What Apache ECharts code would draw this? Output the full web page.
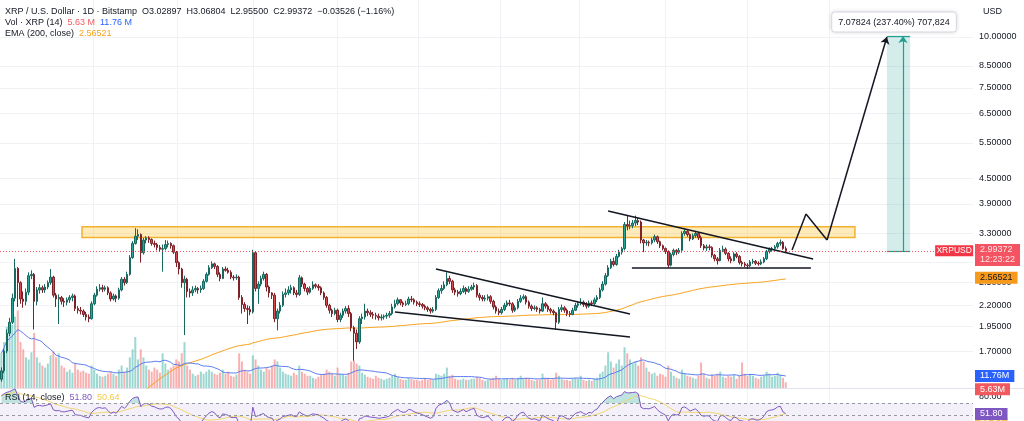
<!DOCTYPE html>
<html>
<head>
<meta charset="utf-8">
<title>XRPUSD 1D</title>
<script src="https://cdn.jsdelivr.net/npm/echarts@6/dist/echarts.min.js"></script>
<style>
  html, body { margin: 0; padding: 0; background: #fff; }
  #chart { width: 1024px; height: 421px; }
</style>
</head>
<body>
<div id="chart"></div>
<script>
// XRP / U.S. Dollar, 1D, Bitstamp
const firstOpen = 1.45;
const closes = [
  1.52,1.70,1.88,2.00,2.29,2.71,2.50,2.28,2.25,2.37,
  2.60,2.62,2.25,2.40,2.43,2.40,2.44,2.50,2.58,2.33,
  2.28,2.30,2.25,2.24,2.27,2.30,2.32,2.16,2.14,2.13,
  2.09,2.06,2.04,2.22,2.33,2.41,2.43,2.41,2.43,2.36,
  2.28,2.32,2.29,2.40,2.55,2.50,2.62,2.88,3.12,3.25,
  3.28,2.96,3.18,3.22,3.19,3.12,3.10,3.05,3.02,3.03,
  3.10,3.12,3.08,2.97,2.80,2.70,2.50,2.55,2.38,2.36,
  2.40,2.42,2.40,2.42,2.52,2.62,2.72,2.78,2.74,2.62,
  2.56,2.70,2.68,2.65,2.58,2.57,2.58,2.30,2.21,2.16,
  2.15,2.12,2.96,2.42,2.48,2.56,2.62,2.44,2.36,2.33,
  2.04,2.13,2.20,2.34,2.36,2.40,2.43,2.36,2.34,2.57,
  2.48,2.42,2.37,2.42,2.47,2.45,2.43,2.36,2.30,2.20,
  2.14,2.10,2.14,2.03,2.08,2.13,2.16,2.10,1.94,1.88,
  1.79,2.04,2.06,2.13,2.11,2.09,2.08,2.07,2.05,2.06,
  2.07,2.08,2.10,2.18,2.22,2.27,2.23,2.21,2.22,2.28,
  2.27,2.24,2.22,2.21,2.19,2.17,2.15,2.13,2.15,2.30,
  2.39,2.42,2.47,2.56,2.52,2.40,2.37,2.35,2.38,2.42,
  2.38,2.41,2.44,2.46,2.33,2.30,2.28,2.29,2.31,2.25,
  2.18,2.13,2.11,2.15,2.20,2.23,2.22,2.14,2.17,2.25,
  2.29,2.31,2.24,2.19,2.16,2.17,2.15,2.13,2.22,2.19,
  2.15,2.13,2.11,2.00,2.15,2.17,2.14,2.10,2.09,2.14,
  2.20,2.22,2.24,2.21,2.19,2.23,2.22,2.27,2.30,2.40,
  2.48,2.60,2.72,2.82,2.77,2.90,2.97,3.03,3.47,3.44,
  3.45,3.50,3.55,3.52,3.18,3.13,3.14,3.13,3.18,3.24,
  3.15,3.08,3.03,2.98,2.76,2.93,3.00,2.97,3.00,3.30,
  3.34,3.28,3.20,3.26,3.30,3.22,3.08,3.04,3.06,3.05,
  2.92,2.86,2.83,3.00,3.02,2.95,2.86,2.83,2.94,2.90,
  2.80,2.78,2.76,2.75,2.81,2.82,2.79,2.78,2.81,2.86,
  2.98,3.02,3.03,3.06,3.12,3.14,3.03,2.99372
];
const highs = [
  1.55,1.72,1.92,2.05,2.35,2.86,2.73,2.52,2.38,2.42,
  2.65,2.68,2.64,2.44,2.48,2.46,2.48,2.53,2.70,2.60,
  2.36,2.34,2.32,2.29,2.30,2.33,2.35,2.34,2.19,2.18,
  2.15,2.12,2.09,2.25,2.36,2.45,2.48,2.47,2.46,2.45,
  2.38,2.35,2.34,2.43,2.58,2.58,2.66,2.92,3.16,3.40,
  3.38,3.30,3.22,3.25,3.25,3.21,3.17,3.13,3.09,3.10,
  3.18,3.17,3.14,3.10,2.99,2.82,2.72,2.60,2.57,2.42,
  2.45,2.46,2.44,2.46,2.55,2.65,2.76,2.82,2.80,2.76,
  2.65,2.73,2.74,2.72,2.68,2.61,2.62,2.60,2.33,2.24,
  2.20,2.19,3.01,2.99,2.52,2.60,2.66,2.64,2.46,2.37,
  2.36,2.16,2.24,2.38,2.42,2.45,2.47,2.45,2.40,2.61,
  2.59,2.50,2.44,2.45,2.52,2.49,2.48,2.45,2.38,2.32,
  2.22,2.16,2.17,2.16,2.11,2.16,2.19,2.20,2.12,1.96,
  1.92,2.07,2.10,2.22,2.16,2.14,2.12,2.11,2.10,2.09,
  2.09,2.11,2.13,2.22,2.27,2.30,2.28,2.25,2.26,2.31,
  2.32,2.29,2.26,2.25,2.23,2.21,2.19,2.17,2.18,2.33,
  2.42,2.47,2.52,2.65,2.60,2.54,2.43,2.40,2.42,2.46,
  2.44,2.45,2.47,2.50,2.48,2.36,2.33,2.33,2.34,2.33,
  2.27,2.20,2.16,2.18,2.23,2.26,2.27,2.24,2.20,2.28,
  2.33,2.34,2.33,2.26,2.21,2.20,2.19,2.17,2.30,2.24,
  2.21,2.17,2.15,2.12,2.18,2.21,2.19,2.16,2.13,2.17,
  2.23,2.25,2.29,2.26,2.24,2.26,2.26,2.30,2.33,2.43,
  2.52,2.64,2.76,2.86,2.88,2.94,3.01,3.06,3.52,3.64,
  3.55,3.56,3.65,3.60,3.55,3.20,3.18,3.17,3.22,3.28,
  3.26,3.17,3.10,3.05,3.00,2.96,3.03,3.02,3.04,3.34,
  3.38,3.36,3.30,3.30,3.35,3.33,3.26,3.11,3.10,3.10,
  3.07,2.94,2.89,3.04,3.08,3.05,2.97,2.90,2.97,2.97,
  2.92,2.83,2.81,2.79,2.84,2.86,2.84,2.82,2.85,2.89,
  3.01,3.05,3.06,3.09,3.15,3.19,3.16,3.06804
];
const lows = [
  1.43,1.50,1.68,1.85,1.98,2.25,2.18,2.22,2.17,2.20,
  2.33,2.55,1.92,2.20,2.35,2.36,2.36,2.41,2.47,2.30,
  2.18,1.98,2.21,2.18,2.20,2.23,2.25,2.13,2.10,2.09,
  2.06,2.02,2.00,2.03,2.20,2.31,2.38,2.37,2.38,2.33,
  2.25,2.26,2.24,2.27,2.38,2.46,2.48,2.60,2.86,3.10,
  3.18,2.80,2.93,3.12,3.13,3.08,3.05,3.00,2.98,2.66,
  3.00,3.05,3.03,2.94,2.73,2.62,2.43,1.86,2.30,2.30,
  2.32,2.37,2.35,2.36,2.40,2.50,2.60,2.70,2.70,2.58,
  2.52,2.55,2.66,2.63,2.55,2.53,2.54,2.27,2.10,2.12,
  1.98,2.08,2.10,2.38,2.22,2.45,2.53,2.38,2.30,2.28,
  2.00,1.91,2.10,2.18,2.30,2.33,2.35,2.33,2.30,2.32,
  2.44,2.38,2.33,2.35,2.40,2.42,2.39,2.33,2.27,2.17,
  2.10,2.06,2.08,2.00,2.00,2.05,2.10,2.06,1.90,1.61,
  1.72,1.77,1.98,2.03,2.07,2.06,2.04,2.03,2.02,2.02,
  2.03,2.04,2.05,2.08,2.16,2.20,2.20,2.18,2.19,2.20,
  2.24,2.21,2.19,2.18,2.16,2.14,2.12,2.10,2.11,2.13,
  2.28,2.35,2.40,2.45,2.48,2.36,2.33,2.31,2.33,2.36,
  2.34,2.36,2.39,2.40,2.30,2.26,2.25,2.25,2.26,2.22,
  2.15,2.10,2.08,2.09,2.13,2.18,2.19,2.11,2.12,2.15,
  2.23,2.27,2.21,2.16,2.13,2.14,2.12,2.10,2.12,2.16,
  2.12,2.10,2.08,1.92,1.98,2.12,2.11,2.07,2.06,2.08,
  2.13,2.17,2.20,2.18,2.16,2.17,2.19,2.20,2.24,2.28,
  2.38,2.46,2.58,2.70,2.74,2.75,2.88,2.93,3.00,3.36,
  3.38,3.40,3.44,3.46,3.12,2.97,3.08,3.07,3.10,3.14,
  3.11,3.04,3.00,2.94,2.72,2.74,2.90,2.92,2.94,2.96,
  3.26,3.24,3.16,3.18,3.22,3.18,3.04,3.00,2.99,3.00,
  2.88,2.82,2.77,2.82,2.97,2.92,2.82,2.79,2.82,2.87,
  2.77,2.74,2.73,2.70,2.73,2.78,2.76,2.75,2.76,2.79,
  2.84,2.95,2.98,3.00,3.03,3.08,3.01,2.955
];
// volume, millions of XRP
const volumes = [
  34,45,60,54,62,70,76,45,38,30,
  28,35,54,30,25,22,20,24,32,36,
  30,34,22,20,16,18,15,24,18,16,
  17,15,14,22,18,14,12,11,12,14,
  16,14,12,18,22,16,20,30,38,50,
  28,38,30,22,18,16,20,18,15,34,
  24,18,20,22,28,26,34,45,22,18,
  14,12,13,16,14,16,18,16,14,13,
  15,18,14,16,12,11,13,34,26,18,
  16,14,32,28,22,18,16,20,18,22,
  28,26,20,16,14,13,12,15,13,22,
  16,14,12,12,10,9,11,13,14,18,
  16,14,12,20,14,13,12,15,26,27,
  24,22,15,13,11,10,9,12,10,9,
  8,9,10,12,14,11,9,8,8,10,
  9,8,8,7,8,9,8,9,8,14,
  13,12,14,20,12,13,9,8,8,9,
  8,8,9,9,11,10,8,7,8,9,
  10,12,9,8,9,9,8,10,8,10,
  12,9,10,9,8,7,8,8,14,10,
  9,8,9,15,12,9,8,8,7,9,
  10,9,12,8,7,8,7,9,10,14,
  16,22,35,26,20,24,28,22,40,34,
  28,24,26,22,30,26,20,16,14,15,
  12,14,13,11,22,16,12,10,9,18,
  14,12,11,10,9,12,25,14,10,9,
  13,12,14,16,11,10,12,11,13,9,
  12,25,14,12,14,12,10,9,11,12,
  16,14,11,12,15,13,10,5.63
];

const priceTicks = [1.70, 1.95, 2.20, 2.50, 2.80, 3.30, 3.90, 4.50, 5.50, 6.50, 7.50, 8.50, 10.00];
const monthLines = [33.5, 64.5, 92, 123, 152.5, 182.5, 211.5, 243, 273, 303];
const slots = 356;             // bar slots, incl. the empty space right of the last bar
const emaSeed = 0.6;           // EMA(200) level before the first visible bar
const rsiSeed = [0.05, 0.012]; // Wilder avg gain / avg loss before the first bar
const rsiBands = [70, 50];     // upper band, middle line

const lastClose = 2.99372, emaLast = 2.56521, volLast = 5.63, volMaLast = 11.76;
const rsiLast = 51.80, rsiMaLast = 50.64;

// drawings (bar index, price)
const zone = [[29.5, 3.428], [312.3, 3.228]];
const wedgeTop = [[159.0, 2.700], [230.0, 2.095]];
const wedgeBottom = [[144.0, 2.118], [230.0, 1.840]];
const triangleTop = [[222.0, 3.746], [297.0, 2.857]];
const triangleBase = [[230.7, 2.716], [296.2, 2.716]];
const projection = [[289.3, 3.006], [294.4, 3.683], [302.1, 3.180], [324.0, 10.0]];
const target = { from: 324.0, to: 332.5, arrow: 329.9, low: 2.98, high: 10.06 };

// ---- derived series ----
const opens = closes.map((c, i) => i ? closes[i - 1] : firstOpen); // 24h market: open = prior close
const candles = closes.map((c, i) => [opens[i], c,
  Math.min(lows[i], opens[i], c), Math.max(highs[i], opens[i], c)]);

const ema = [];
let e = emaSeed;
closes.forEach(c => { e += (c - e) * 2 / 201; ema.push(+e.toFixed(5)); });

function sma(arr, n) {
  return arr.map((v, i) => {
    const s = arr.slice(Math.max(0, i - n + 1), i + 1);
    return s.reduce((a, b) => a + b, 0) / s.length;
  });
}
const volMa = sma(volumes, 14);

const rsi = [];
let ag = rsiSeed[0], al = rsiSeed[1];
closes.forEach((c, i) => {
  const d = c - opens[i];
  ag = (ag * 13 + Math.max(d, 0)) / 14;
  al = (al * 13 + Math.max(-d, 0)) / 14;
  rsi.push(100 - 100 / (1 + ag / al));
});
const rsiMa = sma(rsi, 14);

const cats = Array.from({ length: slots }, (_, i) => String(i));
const font = '"Liberation Sans", Arial, sans-serif';
const fs = 9;
const ink = '#131722';
const gridColor = '#f0f2f6';
const clear = 'rgba(0,0,0,0)';
const upVol = 'rgba(38,166,154,0.45)', downVol = 'rgba(239,83,80,0.45)';

function seg(a, b, endSymbol) {
  return [{ coord: a, symbol: 'none' }, { coord: b, symbol: endSymbol || 'none' }];
}
function tag(bg, fg, text, extra) {
  return Object.assign({
    show: true, position: 'end', distance: 2, color: fg, backgroundColor: bg,
    fontSize: fs, fontFamily: font, padding: [1, 5], lineHeight: 10, formatter: text
  }, extra || {});
}
function hidden(value, label) {
  return { yAxis: value, symbol: 'none', lineStyle: { color: clear, width: 0 }, label: label };
}

const chart = echarts.init(document.getElementById('chart'));
chart.setOption({
  animation: false,
  backgroundColor: '#fff',
  textStyle: { fontFamily: font },
  title: [
    { left: 5, top: 7, padding: 0,
      text: 'XRP / U.S. Dollar · 1D · Bitstamp  O3.02897  H3.06804  L2.95500  C2.99372  −0.03526 (−1.16%)',
      textStyle: { fontSize: fs, fontWeight: 'normal', color: ink, fontFamily: font } },
    { left: 5, top: 18, padding: 0,
      text: 'Vol · XRP (14)  {r|5.63 M}  {b|11.76 M}',
      textStyle: { fontSize: fs, fontWeight: 'normal', color: ink, fontFamily: font,
        rich: { r: { color: '#f05a5f', fontSize: fs }, b: { color: '#2962ff', fontSize: fs } } } },
    { left: 5, top: 29, padding: 0,
      text: 'EMA (200, close)  {o|2.56521}',
      textStyle: { fontSize: fs, fontWeight: 'normal', color: ink, fontFamily: font,
        rich: { o: { color: '#f7a21b', fontSize: fs } } } },
    { left: 5, top: 393, padding: 0,
      text: 'RSI (14, close)  {p|51.80}  {y|50.64}',
      textStyle: { fontSize: fs, fontWeight: 'normal', color: ink, fontFamily: font,
        rich: { p: { color: '#7e57c2', fontSize: fs }, y: { color: '#f2c94c', fontSize: fs } } } },
    { left: 983, top: 7, padding: 0, text: 'USD',
      textStyle: { fontSize: fs, fontWeight: 'normal', color: ink, fontFamily: font } }
  ],
  graphic: [
    { type: 'line', silent: true, z: 1, shape: { x1: 0, y1: 388.5, x2: 1024, y2: 388.5 },
      style: { stroke: '#e0e3eb', lineWidth: 1 } }
  ],
  grid: [
    { left: 0, right: 51, top: 0, height: 388 },
    { left: 0, right: 51, top: 288, height: 100 },
    { left: 0, right: 51, top: 388, height: 33 }
  ],
  xAxis: [
    { type: 'category', gridIndex: 0, data: cats, show: false },
    { type: 'category', gridIndex: 1, data: cats, show: false },
    { type: 'value', gridIndex: 0, min: -0.5, max: slots - 0.5,
      axisLine: { show: false }, axisTick: { show: false, customValues: monthLines },
      axisLabel: { show: false, customValues: monthLines },
      splitLine: { show: true, lineStyle: { color: gridColor, width: 1 } } },
    { type: 'value', gridIndex: 2, min: -0.5, max: slots - 0.5,
      axisLine: { show: false }, axisTick: { show: false, customValues: monthLines },
      axisLabel: { show: false, customValues: monthLines },
      splitLine: { show: true, lineStyle: { color: gridColor, width: 1 } } }
  ],
  yAxis: [
    { type: 'log', gridIndex: 0, position: 'right', min: 1.38, max: 12.32,
      axisLine: { show: false },
      axisTick: { show: false, customValues: priceTicks },
      axisLabel: { customValues: priceTicks, align: 'left', margin: 6, color: ink,
        fontSize: fs, fontFamily: font,
        formatter: v => (Math.abs(v - 2.8) < 1e-6 ? '' : v.toFixed(5)) },
      splitLine: { show: true, lineStyle: { color: gridColor, width: 1 } } },
    { type: 'value', gridIndex: 1, min: 0, max: 98, show: false },
    { type: 'value', gridIndex: 2, position: 'right', min: 40, max: 95,
      axisLine: { show: false }, splitLine: { show: false },
      axisTick: { show: false, customValues: [80] },
      axisLabel: { customValues: [80], align: 'left', margin: 6, color: ink,
        fontSize: fs, fontFamily: font, formatter: v => v.toFixed(2) } }
  ],
  series: [
    {
      name: 'XRPUSD', type: 'candlestick', xAxisIndex: 0, yAxisIndex: 0,
      data: candles, barWidth: 2, z: 3,
      itemStyle: { color: '#26a69a', color0: '#d9474f', borderColor: '#17695f', borderColor0: '#7d2228', borderWidth: 1 }
    },
    {
      name: 'EMA 200', type: 'line', xAxisIndex: 0, yAxisIndex: 0, data: ema,
      showSymbol: false, silent: true, lineStyle: { color: '#f7a21b', width: 1 }
    },
    {
      name: 'Volume', type: 'bar', xAxisIndex: 1, yAxisIndex: 1, barWidth: 2,
      data: volumes.map((v, i) => ({ value: v, itemStyle: { color: closes[i] >= opens[i] ? upVol : downVol } }))
    },
    {
      name: 'Vol MA', type: 'line', xAxisIndex: 1, yAxisIndex: 1, data: volMa,
      showSymbol: false, silent: true, clip: false, lineStyle: { color: '#5b7cf0', width: 1 },
      markLine: { silent: true, symbol: 'none', animation: false,
        data: [
          hidden(volLast, tag('#f05a5f', '#fff', volLast.toFixed(2) + 'M', { offset: [0, 7] })),
          hidden(volMaLast, tag('#2962ff', '#fff', volMaLast.toFixed(2) + 'M'))
        ] }
    },
    {
      name: 'Drawings', type: 'line', xAxisIndex: 2, yAxisIndex: 0, data: [], silent: true, clip: false, z: 4,
      markArea: {
        silent: true,
        data: [
          [{ coord: zone[0], itemStyle: { color: 'rgba(255,190,40,0.32)', borderColor: '#f2b230', borderWidth: 1.5 } }, { coord: zone[1] }],
          [{ coord: [target.from, target.high], itemStyle: { color: 'rgba(38,166,154,0.2)' } }, { coord: [target.to, target.low] }]
        ]
      },
      markLine: {
        silent: true, symbolSize: 7, label: { show: false },
        lineStyle: { color: ink, width: 1.5, type: 'solid' },
        data: [
          seg(wedgeTop[0], wedgeTop[1]),
          seg(wedgeBottom[0], wedgeBottom[1]),
          seg(triangleTop[0], triangleTop[1]),
          seg(triangleBase[0], triangleBase[1]),
          seg(projection[0], projection[1]),
          seg(projection[1], projection[2]),
          seg(projection[2], projection[3], 'arrow'),
          [{ coord: [target.from, target.high], symbol: 'none', lineStyle: { color: '#22a08f', width: 1.2 } },
           { coord: [target.to, target.high], symbol: 'none' }],
          [{ coord: [target.from, target.low], symbol: 'none', lineStyle: { color: '#22a08f', width: 1.2 } },
           { coord: [target.to, target.low], symbol: 'none' }],
          [{ coord: [target.arrow, target.low], symbol: 'none', lineStyle: { color: '#22a08f', width: 1.2 } },
           { coord: [target.arrow, target.high], symbol: 'arrow' }],
          { yAxis: lastClose, symbol: 'none',
            lineStyle: { color: '#f23645', width: 1, type: [1, 2], opacity: 0.85 },
            label: tag('#f23645', '#fff', '2.99372\n12:23:22', { offset: [0, 4] }) },
          hidden(emaLast, tag('#f79a1b', ink, emaLast.toFixed(5)))
        ]
      },
      markPoint: {
        silent: true,
        data: [
          { coord: [348.6, lastClose], symbol: 'rect', symbolSize: [38, 11], itemStyle: { color: '#f23645' },
            label: { show: true, formatter: 'XRPUSD', color: '#fff', fontSize: 8.5, fontFamily: font } },
          { coord: [326.6, 10.88], symbol: 'rect', symbolSize: 0,
            label: { show: true, formatter: '7.07824 (237.40%) 707,824', color: ink, fontSize: fs,
              fontFamily: font, backgroundColor: '#fff', borderColor: '#e0e3eb', borderWidth: 1,
              borderRadius: 3, padding: [5, 6], shadowColor: 'rgba(0,0,0,0.12)', shadowBlur: 4 } }
        ]
      }
    },
    // RSI pane: overbought fill = area under max(rsi,70); the band below 70 is painted over it
    {
      name: 'OB fill', type: 'line', xAxisIndex: 3, yAxisIndex: 2, z: 1,
      data: rsi.map((v, i) => [i, Math.max(v, rsiBands[0])]), showSymbol: false, silent: true,
      lineStyle: { width: 0, color: clear }, areaStyle: { color: '#bfe4df', opacity: 1 }
    },
    {
      name: 'Band', type: 'line', xAxisIndex: 3, yAxisIndex: 2, z: 2,
      data: [[-0.5, rsiBands[0]], [slots - 0.5, rsiBands[0]]], showSymbol: false, silent: true,
      lineStyle: { width: 0, color: clear }, areaStyle: { color: '#f3f0fa', opacity: 1 },
      markLine: {
        silent: true, symbol: 'none',
        lineStyle: { color: '#9598a1', width: 1, type: [3, 3] }, label: { show: false },
        data: rsiBands.map(v => ({ yAxis: v }))
      }
    },
    {
      name: 'RSI MA', type: 'line', xAxisIndex: 3, yAxisIndex: 2, z: 3,
      data: rsiMa.map((v, i) => [i, v]), showSymbol: false, silent: true,
      lineStyle: { color: '#f2d66b', width: 1 }
    },
    {
      name: 'RSI', type: 'line', xAxisIndex: 3, yAxisIndex: 2, z: 4,
      data: rsi.map((v, i) => [i, v]), showSymbol: false, silent: true,
      lineStyle: { color: '#7e57c2', width: 1 }
    },
    {
      name: 'RSI tags', type: 'line', xAxisIndex: 3, yAxisIndex: 2, z: 5, data: [], clip: false, silent: true,
      markLine: {
        silent: true, symbol: 'none',
        data: [
          hidden(rsiMaLast, tag('#f2c94c', '#fff', rsiMaLast.toFixed(2), { offset: [0, 9] })),
          hidden(rsiLast, tag('#7e57c2', '#fff', rsiLast.toFixed(2)))
        ]
      }
    }
  ]
});
</script>
</body>
</html>
